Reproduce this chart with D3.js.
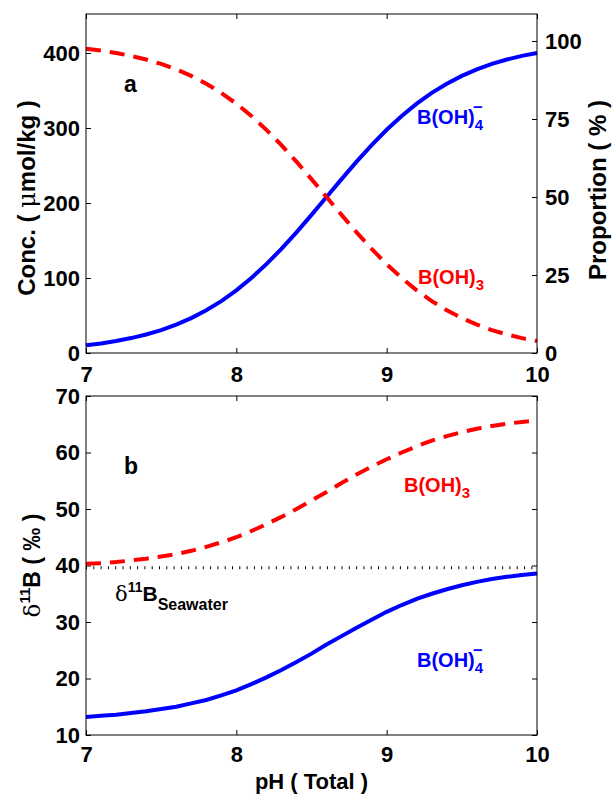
<!DOCTYPE html>
<html>
<head>
<meta charset="utf-8">
<script src="https://cdn.jsdelivr.net/npm/d3@7"></script>
<style>
  body { margin: 0; background: #fff; }
  svg text { font-family: "Liberation Sans", Arial, sans-serif; font-weight: bold; }
</style>
</head>
<body>
<svg id="chart" width="615" height="794"></svg>
<script>
// pH grid (Total scale)
var pH = [7.0, 7.1, 7.2, 7.3, 7.4, 7.5, 7.6, 7.7, 7.8, 7.9, 8.0, 8.1, 8.2, 8.3, 8.4, 8.5,
          8.6, 8.7, 8.8, 8.9, 9.0, 9.1, 9.2, 9.3, 9.4, 9.5, 9.6, 9.7, 9.8, 9.9, 10.0];

// panel a : concentrations (umol/kg)
var borateConc = [10.2, 12.8, 15.9, 19.9, 24.7, 30.6, 37.8, 46.5, 56.9, 69.2, 83.5, 100.0, 118.5, 138.9, 160.9, 184.2,
                  208.0, 231.8, 255.1, 277.1, 297.6, 316.0, 332.5, 346.8, 359.1, 369.5, 378.2, 385.4, 391.3, 396.2, 400.1];
var boricConc = [405.8, 403.2, 400.1, 396.1, 391.3, 385.4, 378.2, 369.5, 359.1, 346.8, 332.5, 316.0, 297.5, 277.1, 255.1, 231.8,
                 208.0, 184.2, 160.9, 138.9, 118.4, 100.0, 83.5, 69.2, 56.9, 46.5, 37.8, 30.6, 24.7, 19.8, 15.9];

// panel b : isotopic composition (permil)
var borateD11B = [13.2, 13.4, 13.6, 13.9, 14.2, 14.6, 15.0, 15.6, 16.2, 17.0, 17.9, 19.0, 20.2, 21.5, 22.9, 24.4,
                  26.0, 27.5, 29.0, 30.4, 31.8, 33.0, 34.1, 35.0, 35.8, 36.5, 37.1, 37.6, 38.0, 38.3, 38.6];
var boricD11B = [40.3, 40.4, 40.6, 40.9, 41.2, 41.6, 42.0, 42.6, 43.3, 44.1, 45.0, 46.1, 47.3, 48.6, 50.0, 51.5,
                 53.0, 54.6, 56.1, 57.5, 58.8, 60.0, 61.1, 62.1, 62.9, 63.6, 64.2, 64.7, 65.1, 65.4, 65.7];
var seawaterD11B = 39.61;

var totalBoron = 416;   // 100 % on the right axis
var phTicks = [7, 8, 9, 10];
var concTicks = [0, 100, 200, 300, 400];
var propTicks = [0, 25, 50, 75, 100];
var d11Ticks = [10, 20, 30, 40, 50, 60, 70];

var blue = "#0000ff", red = "#ff0000";
var svg = d3.select("#chart");

// panel geometry
var pa = {left: 86, right: 537, top: 14, bottom: 353};
var pb = {left: 86, right: 537, top: 396, bottom: 735};

var xa = d3.scaleLinear().domain([7, 10]).range([pa.left, pa.right]);
var xb = d3.scaleLinear().domain([7, 10]).range([pb.left, pb.right]);
var yConc = d3.scaleLinear().domain([0, 452]).range([pa.bottom, pa.top]);
var yProp = d3.scaleLinear().domain([0, 452 / totalBoron * 100]).range([pa.bottom, pa.top]);
var yD = d3.scaleLinear().domain([10, 70]).range([pb.bottom, pb.top]);
var fmt = d3.format("d");

function styleAxis(g, showLabels){
  g.select(".domain").remove();
  g.selectAll(".tick line").attr("stroke", "#000").attr("stroke-width", 1);
  g.selectAll(".tick text")
    .attr("fill", "#000")
    .attr("font-size", 22)
    .attr("font-family", "Liberation Sans, Arial, sans-serif")
    .attr("font-weight", "bold");
  if(!showLabels) g.selectAll(".tick text").remove();
}

function frame(p){
  svg.append("rect")
    .attr("x", p.left).attr("y", p.top)
    .attr("width", p.right - p.left).attr("height", p.bottom - p.top)
    .attr("fill", "none").attr("stroke", "#000").attr("stroke-width", 1);
}

// ---------- panel a ----------
svg.append("g").attr("transform", "translate(0," + pa.bottom + ")")
  .call(d3.axisBottom(xa).tickValues(phTicks).tickFormat(fmt).tickSizeInner(-5).tickSizeOuter(0).tickPadding(13))
  .call(styleAxis, true);
svg.append("g").attr("transform", "translate(0," + pa.top + ")")
  .call(d3.axisTop(xa).tickValues(phTicks).tickSizeInner(-5).tickSizeOuter(0))
  .call(styleAxis, false);
svg.append("g").attr("transform", "translate(" + pa.left + ",0)")
  .call(d3.axisLeft(yConc).tickValues(concTicks).tickFormat(fmt).tickSizeInner(-5).tickSizeOuter(0).tickPadding(6))
  .call(styleAxis, true);
svg.append("g").attr("transform", "translate(" + pa.right + ",0)")
  .call(d3.axisRight(yProp).tickValues(propTicks).tickFormat(fmt).tickSizeInner(-5).tickSizeOuter(0).tickPadding(8))
  .call(styleAxis, true);

var lineA = function(vals){
  return d3.line().x(function(d, i){ return xa(pH[i]); }).y(function(d){ return yConc(d); })(vals);
};
svg.append("path").attr("d", lineA(borateConc))
  .attr("fill", "none").attr("stroke", blue).attr("stroke-width", 4);
svg.append("path").attr("d", lineA(boricConc))
  .attr("fill", "none").attr("stroke", red).attr("stroke-width", 4)
  .attr("stroke-dasharray", "15,9");
frame(pa);

// ---------- panel b ----------
svg.append("g").attr("transform", "translate(0," + pb.bottom + ")")
  .call(d3.axisBottom(xb).tickValues(phTicks).tickFormat(fmt).tickSizeInner(-5).tickSizeOuter(0).tickPadding(11))
  .call(styleAxis, true);
svg.append("g").attr("transform", "translate(0," + pb.top + ")")
  .call(d3.axisTop(xb).tickValues(phTicks).tickSizeInner(-5).tickSizeOuter(0))
  .call(styleAxis, false);
svg.append("g").attr("transform", "translate(" + pb.left + ",0)")
  .call(d3.axisLeft(yD).tickValues(d11Ticks).tickFormat(fmt).tickSizeInner(-5).tickSizeOuter(0).tickPadding(6))
  .call(styleAxis, true);
svg.append("g").attr("transform", "translate(" + pb.right + ",0)")
  .call(d3.axisRight(yD).tickValues(d11Ticks).tickSizeInner(-5).tickSizeOuter(0))
  .call(styleAxis, false);

// seawater reference
svg.append("line")
  .attr("x1", xb(7)).attr("x2", xb(10))
  .attr("y1", yD(seawaterD11B)).attr("y2", yD(seawaterD11B))
  .attr("stroke", "#000").attr("stroke-width", 3).attr("stroke-dasharray", "1,6.3");

var lineB = function(vals){
  return d3.line().x(function(d, i){ return xb(pH[i]); }).y(function(d){ return yD(d); })(vals);
};
svg.append("path").attr("d", lineB(borateD11B))
  .attr("fill", "none").attr("stroke", blue).attr("stroke-width", 4);
svg.append("path").attr("d", lineB(boricD11B))
  .attr("fill", "none").attr("stroke", red).attr("stroke-width", 4)
  .attr("stroke-dasharray", "15,9");
frame(pb);

// ---------- text ----------
function borateLabel(x, y){
  var t = svg.append("text").attr("x", x).attr("y", y).attr("fill", blue).attr("font-size", 20);
  t.append("tspan").text("B(OH)");
  t.append("tspan").attr("font-size", 15).attr("dy", 6).text("4");
  t.append("tspan").attr("font-size", 17).attr("dx", -10).attr("dy", -18).text("\u2013");
}
function boricLabel(x, y){
  var t = svg.append("text").attr("x", x).attr("y", y).attr("fill", red).attr("font-size", 20);
  t.append("tspan").text("B(OH)");
  t.append("tspan").attr("font-size", 15).attr("dy", 6).text("3");
}
borateLabel(417, 124);
boricLabel(418, 284);
boricLabel(404, 492);
borateLabel(417, 667);

svg.append("text").attr("x", 124).attr("y", 92).attr("font-size", 23).text("a");
svg.append("text").attr("x", 124).attr("y", 474).attr("font-size", 23).text("b");

// delta11B seawater label
var sw = svg.append("text").attr("x", 115).attr("y", 601).attr("font-size", 21).attr("fill", "#000");
sw.append("tspan").attr("font-family", "DejaVu Serif, serif").attr("font-weight", "normal").text("\u03B4");
sw.append("tspan").attr("font-size", 14).attr("dy", -9).text("11");
sw.append("tspan").attr("dy", 9).text("B");
sw.append("tspan").attr("font-size", 16).attr("dy", 9).text("Seawater");

// axis titles
var cl = svg.append("text")
  .attr("transform", "translate(35,198) rotate(-90)")
  .attr("text-anchor", "middle").attr("font-size", 24);
cl.append("tspan").text("Conc. ( ");
cl.append("tspan").attr("font-family", "DejaVu Serif, serif").attr("font-weight", "normal").text("\u03BC");
cl.append("tspan").text("mol/kg )");
svg.append("text")
  .attr("transform", "translate(606,190) rotate(-90)")
  .attr("text-anchor", "middle").attr("font-size", 24)
  .text("Proportion ( % )");
svg.append("text")
  .attr("x", (pb.left + pb.right) / 2).attr("y", 789)
  .attr("text-anchor", "middle").attr("font-size", 22)
  .text("pH ( Total )");

var dl = svg.append("text")
  .attr("transform", "translate(40," + ((pb.top + pb.bottom) / 2) + ") rotate(-90)")
  .attr("text-anchor", "middle").attr("font-size", 23);
dl.append("tspan").attr("font-family", "DejaVu Serif, serif").attr("font-weight", "normal").text("\u03B4");
dl.append("tspan").attr("font-size", 15).attr("dy", -10).text("11");
dl.append("tspan").attr("dy", 10).text("B ( \u2030 )");
</script>
</body>
</html>
